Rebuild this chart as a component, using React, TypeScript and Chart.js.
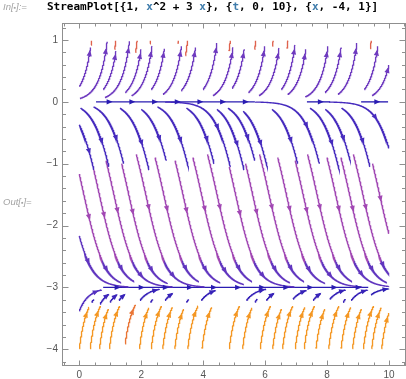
import React, { useEffect, useRef } from "react";
import { Chart, registerables } from "chart.js";

Chart.register(...registerables);

// ---------- axes ----------
const T_MIN = -0.559;
const T_MAX = 10.549;
const X_MIN = -4.27;
const X_MAX = 1.275;
const T_TICKS = [0, 2, 4, 6, 8, 10];
const X_TICKS = [1, 0, -1, -2, -3, -4];
const T_MINOR = 0.5;
const X_MINOR = 0.2;
const DOMAIN_T = [0, 10];

// ---------- streamlines of {1, x^2 + 3x} ----------
// sloped streamline: [t at reference point, x at reference point (seed), x start, x end]
const TOP_LINES = [
  [0.21, 0.5, 0.25, 0.88], [0.72, 0.5, 0.054, 0.97], [1.05, 0.5, 0.2, 0.82],
  [1.44, 0.5, 0.07, 0.98], [1.85, 0.5, 0.15, 0.85], [2.19, 0.5, 0.1, 0.9],
  [2.6, 0.5, 0.2, 0.86], [3.14, 0.5, 0.12, 0.9], [3.6, 0.5, 0.18, 0.88],
  [4.27, 0.5, 0.2, 0.95], [4.81, 0.5, 0.1, 0.88], [5.18, 0.5, 0.22, 0.85],
  [5.83, 0.5, 0.15, 0.9], [6.3, 0.5, 0.1, 0.87], [6.8, 0.5, 0.2, 0.92],
  [7.17, 0.5, 0.12, 0.85], [7.87, 0.5, 0.08, 0.9], [8.3, 0.5, 0.15, 0.88],
  [8.79, 0.5, 0.12, 0.95], [9.48, 0.5, 0.2, 0.9], [9.95, 0.5, 0.1, 0.85],
];
const TIP_LINES = [
  [0.36, 0.85, 0.92, 0.99], [1.14, 0.85, 0.85, 0.99], [1.83, 0.85, 0.8, 0.99],
  [2.26, 0.85, 0.94, 0.99], [3.16, 0.85, 0.94, 0.99], [3.46, 0.85, 0.75, 0.99],
  [4.84, 0.85, 0.82, 0.99], [5.66, 0.85, 0.85, 0.99], [6.22, 0.85, 0.9, 0.99],
  [6.7, 0.85, 0.86, 0.99], [9.39, 0.85, 0.86, 0.99],
];
const UPPER_LINES = [
  [0.03, -0.4, -0.3, -1.1], [0.54, -0.4, -0.1, -1.05], [1.04, -0.4, -0.08, -1.0],
  [1.81, -0.4, -0.1, -1.1], [2.44, -0.4, -0.12, -0.95], [3.1, -0.4, -0.08, -1.05],
  [3.96, -0.4, -0.1, -1.0], [4.46, -0.4, -0.003, -1.05], [4.88, -0.4, -0.12, -1.1],
  [5.3, -0.4, -0.1, -0.95], [5.65, -0.4, -0.15, -1.05], [6.66, -0.4, -0.12, -1.0],
  [7.36, -0.4, -0.003, -1.0], [7.95, -0.4, -0.1, -1.1], [8.38, -0.4, -0.12, -0.95],
  [8.97, -0.4, -0.1, -1.05], [9.74, -0.4, -0.003, -0.9],
];
const MID_LINES = [
  [0.15, -1.5, -0.9, -2.55], [0.65, -1.5, -1.1, -2.55], [1.12, -1.5, -0.95, -2.55],
  [1.6, -1.5, -1.0, -2.55], [2.15, -1.5, -0.85, -2.55], [2.73, -1.5, -0.9, -2.55],
  [3.35, -1.5, -0.95, -2.55], [3.95, -1.5, -0.9, -2.55], [4.45, -1.5, -0.85, -2.55],
  [5.05, -1.5, -1.05, -2.55], [5.6, -1.5, -1.0, -2.55], [6.13, -1.5, -0.85, -2.55],
  [6.69, -1.5, -0.9, -2.55], [7.23, -1.5, -0.95, -2.55], [7.68, -1.5, -0.85, -2.55],
  [8.28, -1.5, -0.9, -2.55], [8.73, -1.5, -0.9, -2.55], [9.16, -1.5, -0.85, -2.55],
  [9.7, -1.5, -1.0, -2.55],
];
const LOW_LINES = [
  [0.11, -2.35, -2.1, -2.99], [0.57, -2.35, -2.55, -2.92], [1.07, -2.35, -2.55, -2.9],
  [1.54, -2.35, -2.55, -2.99], [2.02, -2.35, -2.55, -2.93], [2.57, -2.35, -2.55, -2.99],
  [3.15, -2.35, -2.55, -2.9], [3.77, -2.35, -2.55, -2.92], [4.37, -2.35, -2.55, -2.95],
  [4.87, -2.35, -2.55, -2.9], [5.47, -2.35, -2.55, -2.99], [6.02, -2.35, -2.55, -2.92],
  [6.55, -2.35, -2.55, -2.9], [7.11, -2.35, -2.55, -2.93], [7.65, -2.35, -2.55, -2.99],
  [8.1, -2.35, -2.55, -2.9], [8.7, -2.35, -2.55, -2.99], [9.15, -2.35, -2.55, -2.92],
  [9.58, -2.35, -2.55, -2.9],
];
// [t start, x start, x end]
const ORANGE_LINES = [
  [0.0, -3.99, -3.32], [0.35, -3.99, -3.3], [0.65, -3.99, -3.35], [0.97, -3.99, -3.3],
  [1.48, -3.91, -3.28], [1.94, -3.99, -3.33], [2.32, -3.99, -3.3], [2.69, -3.99, -3.32],
  [3.08, -3.99, -3.35], [3.5, -3.99, -3.3], [3.96, -3.99, -3.32], [4.84, -3.99, -3.3],
  [5.27, -3.99, -3.33], [5.84, -3.99, -3.3], [6.24, -3.99, -3.35], [6.56, -3.99, -3.3],
  [6.97, -3.99, -3.32], [7.26, -3.99, -3.3], [7.64, -3.99, -3.35], [8.05, -3.99, -3.3],
  [8.45, -3.99, -3.32], [8.82, -3.99, -3.35], [9.17, -3.99, -3.3], [9.44, -3.99, -3.33],
  [9.76, -3.99, -3.38],
];
const SHORT_LINES = [
  [0.0, -3.38, -3.04], [0.4, -3.24, -3.19], [0.67, -3.27, -3.11], [0.99, -3.24, -3.12],
  [1.28, -3.21, -3.12], [1.96, -3.21, -3.03], [2.3, -3.24, -3.19], [2.77, -3.21, -3.1],
  [3.46, -3.24, -3.19], [3.94, -3.21, -3.05], [5.4, -3.21, -3.03], [5.67, -3.24, -3.19],
  [6.04, -3.21, -3.1], [6.9, -3.19, -3.05], [7.55, -3.21, -3.1], [8.09, -3.19, -3.04],
  [8.52, -3.24, -3.19], [8.78, -3.21, -3.04], [9.42, -3.12, -3.02],
];
// streamlines lying on the equilibria x = 0 and x = -3: [t start, t end]
const ZERO_FLAT = [[0.54, 5.67], [7.35, 8.1], [9.1, 9.97]];
const MINUS3_FLAT = [[0.77, 9.33]];

// ---------- field helpers ----------
const field = (x: number) => x * x + 3 * x;
const speedAt = (x: number) => Math.sqrt(1 + field(x) * field(x));
const rOf = (x: number) => x / (x + 3);
const xOnTraj = (tRef: number, xRef: number, t: number) => {
  const u = rOf(xRef) * Math.exp(3 * (t - tRef));
  return (3 * u) / (1 - u);
};
const tOnTraj = (tRef: number, xRef: number, x: number) =>
  tRef + Math.log(rOf(x) / rOf(xRef)) / 3;

const SPEED_STOPS: [number, number[]][] = [
  [1.0, [42, 28, 178]],
  [1.5, [74, 45, 192]],
  [2.0, [108, 58, 191]],
  [2.5, [165, 72, 178]],
  [3.0, [194, 85, 150]],
  [3.5, [228, 100, 63]],
  [4.2, [247, 162, 29]],
];
function colorForSpeed(s: number) {
  if (s <= SPEED_STOPS[0][0]) return `rgb(${SPEED_STOPS[0][1].join(",")})`;
  for (let i = 1; i < SPEED_STOPS.length; i++) {
    const [s1, c1] = SPEED_STOPS[i];
    const [s0, c0] = SPEED_STOPS[i - 1];
    if (s <= s1) {
      const f = (s - s0) / (s1 - s0);
      const c = c0.map((v, k) => Math.round(v + (c1[k] - v) * f));
      return `rgb(${c.join(",")})`;
    }
  }
  return `rgb(${SPEED_STOPS[SPEED_STOPS.length - 1][1].join(",")})`;
}

type Seg = { pts: { x: number; y: number }[]; color: string; arrows: number[] };

function sloped(line: number[], arrows: number[]): Seg | null {
  const [tRef, xRef, xs, xe] = line;
  let ta = tOnTraj(tRef, xRef, xs);
  let tb = tOnTraj(tRef, xRef, xe);
  if (ta > tb) [ta, tb] = [tb, ta];
  ta = Math.max(ta, DOMAIN_T[0]);
  tb = Math.min(tb, DOMAIN_T[1]);
  if (tb - ta < 1e-4) return null;
  const n = Math.max(2, Math.ceil((tb - ta) / 0.004));
  const pts = [];
  for (let i = 0; i <= n; i++) {
    const t = ta + ((tb - ta) * i) / n;
    pts.push({ x: t, y: xOnTraj(tRef, xRef, t) });
  }
  return { pts, color: colorForSpeed(speedAt(xRef)), arrows };
}
function flat(xEq: number, seg: number[]): Seg {
  const [ta, tb] = seg;
  const n = Math.max(1, Math.round((tb - ta) / 0.75));
  const arrows = Array.from({ length: n }, (_, i) => (i + 0.6) / n);
  return {
    pts: [{ x: ta, y: xEq }, { x: tb, y: xEq }],
    color: colorForSpeed(speedAt(xEq)),
    arrows,
  };
}

function buildSegments(): Seg[] {
  const out: (Seg | null)[] = [];
  ORANGE_LINES.forEach(([t, x0, x1]) => out.push(sloped([t, x0, x0, x1], [0.82])));
  SHORT_LINES.forEach(([t, x0, x1]) => out.push(sloped([t, x0, x0, x1], [0.82])));
  TIP_LINES.forEach((l) => out.push(sloped(l, [])));
  TOP_LINES.forEach((l) => out.push(sloped(l, [0.86])));
  UPPER_LINES.forEach((l) => out.push(sloped(l, [0.6])));
  MID_LINES.forEach((l) => out.push(sloped(l, [0.5])));
  LOW_LINES.forEach((l) => out.push(sloped(l, [0.35])));
  ZERO_FLAT.forEach((s) => out.push(flat(0, s)));
  MINUS3_FLAT.forEach((s) => out.push(flat(-3, s)));
  return out.filter((s): s is Seg => !!s);
}

const fmt = (v: number) => (v < 0 ? "\u2212" + Math.abs(v) : String(v));

const arrowPlugin = {
  id: "arrows",
  afterDatasetsDraw(chart: any) {
    const { ctx, chartArea: a } = chart;
    const xs = chart.scales.x;
    const ys = chart.scales.y;
    ctx.save();
    ctx.beginPath();
    ctx.rect(a.left, a.top, a.right - a.left, a.bottom - a.top);
    ctx.clip();
    chart.data.datasets.forEach((ds: any) => {
      const arrows: number[] = ds.arrows || [];
      if (!arrows.length) return;
      const px = ds.data.map((p: any) => [xs.getPixelForValue(p.x), ys.getPixelForValue(p.y)]);
      const cum = [0];
      for (let i = 1; i < px.length; i++) {
        cum.push(cum[i - 1] + Math.hypot(px[i][0] - px[i - 1][0], px[i][1] - px[i - 1][1]));
      }
      const L = cum[cum.length - 1];
      if (L < 6) return;
      ctx.fillStyle = ds.borderColor;
      arrows.forEach((f) => {
        const target = f * L;
        let i = 1;
        while (i < cum.length - 1 && cum[i] < target) i++;
        const segL = cum[i] - cum[i - 1] || 1;
        const k = (target - cum[i - 1]) / segL;
        const x = px[i - 1][0] + (px[i][0] - px[i - 1][0]) * k;
        const y = px[i - 1][1] + (px[i][1] - px[i - 1][1]) * k;
        let dx = px[i][0] - px[i - 1][0];
        let dy = px[i][1] - px[i - 1][1];
        const d = Math.hypot(dx, dy) || 1;
        dx /= d;
        dy /= d;
        const len = 6;
        const hw = 2.6;
        const tipX = x + dx * len * 0.5;
        const tipY = y + dy * len * 0.5;
        const bx = x - dx * len * 0.5;
        const by = y - dy * len * 0.5;
        ctx.beginPath();
        ctx.moveTo(tipX, tipY);
        ctx.lineTo(bx - dy * hw, by + dx * hw);
        ctx.lineTo(bx + dy * hw, by - dx * hw);
        ctx.closePath();
        ctx.fill();
      });
    });
    ctx.restore();
  },
};

const framePlugin = {
  id: "frame",
  afterDraw(chart: any) {
    const { ctx, chartArea: a } = chart;
    const xs = chart.scales.x;
    const ys = chart.scales.y;
    const L = Math.round(a.left) + 0.5;
    const R = Math.round(a.right) - 0.5;
    const T = Math.round(a.top) + 0.5;
    const B = Math.round(a.bottom) - 0.5;
    ctx.save();
    ctx.strokeStyle = "#8f8f8f";
    ctx.lineWidth = 1;
    ctx.strokeRect(L, T, R - L, B - T);
    ctx.beginPath();
    for (let k = Math.ceil(T_MIN / T_MINOR); k * T_MINOR <= T_MAX; k++) {
      const v = k * T_MINOR;
      const major = T_TICKS.some((m) => Math.abs(m - v) < 1e-6);
      const len = major ? 5 : 3;
      const p = Math.round(xs.getPixelForValue(v)) + 0.5;
      ctx.moveTo(p, B);
      ctx.lineTo(p, B - len);
      ctx.moveTo(p, T);
      ctx.lineTo(p, T + len);
    }
    for (let k = Math.ceil(X_MIN / X_MINOR - 1e-9); k * X_MINOR <= X_MAX + 1e-9; k++) {
      const v = k * X_MINOR;
      const major = X_TICKS.some((m) => Math.abs(m - v) < 1e-6);
      const len = major ? 6 : 3.5;
      const p = Math.round(ys.getPixelForValue(v)) + 0.5;
      ctx.moveTo(L, p);
      ctx.lineTo(L + len, p);
      ctx.moveTo(R, p);
      ctx.lineTo(R - len, p);
    }
    ctx.stroke();
    ctx.restore();
  },
};

export default function App() {
  const ref = useRef<HTMLCanvasElement>(null);
  useEffect(() => {
    const segs = buildSegments();
    const tickFont = { family: "'Liberation Sans', Arial, sans-serif", size: 10 };
    const chart = new Chart(ref.current as HTMLCanvasElement, {
      type: "scatter",
      data: {
        datasets: segs.map((s) => ({
          data: s.pts,
          showLine: true,
          borderColor: s.color,
          backgroundColor: s.color,
          borderWidth: 1.35,
          pointRadius: 0,
          pointHoverRadius: 0,
          fill: false,
          tension: 0,
          arrows: s.arrows,
        })) as any,
      },
      options: {
        animation: false,
        responsive: false,
        devicePixelRatio: 1,
        events: [],
        layout: { padding: { top: 23, right: 0, left: 0, bottom: 0 } },
        plugins: { legend: { display: false }, tooltip: { enabled: false } },
        scales: {
          x: {
            type: "linear",
            min: T_MIN,
            max: T_MAX,
            grid: { display: false, drawTicks: false },
            border: { display: false },
            afterBuildTicks: (s: any) => {
              s.ticks = T_TICKS.map((v) => ({ value: v }));
            },
            afterFit: (s: any) => {
              s.height = 13;
            },
            ticks: {
              padding: 3,
              color: "#555",
              font: tickFont,
              maxRotation: 0,
              autoSkip: false,
              callback: (v: any) => fmt(Number(v)),
            },
          },
          y: {
            type: "linear",
            min: X_MIN,
            max: X_MAX,
            grid: { display: false, drawTicks: false },
            border: { display: false },
            afterBuildTicks: (s: any) => {
              s.ticks = X_TICKS.map((v) => ({ value: v }));
            },
            afterFit: (s: any) => {
              s.width = 62;
            },
            ticks: {
              padding: 4,
              color: "#555",
              font: tickFont,
              autoSkip: false,
              callback: (v: any) => fmt(Number(v)),
            },
          },
        },
      } as any,
      plugins: [arrowPlugin, framePlugin],
    });
    return () => chart.destroy();
  }, []);

  const label: React.CSSProperties = {
    position: "absolute",
    fontFamily: "'Liberation Sans', Arial, sans-serif",
    fontStyle: "italic",
    fontSize: 9.5,
    color: "#a3a3a3",
    lineHeight: "11px",
    whiteSpace: "nowrap",
  };
  const v: React.CSSProperties = { color: "#3f7cab" };
  return (
    <div
      style={{
        position: "absolute",
        left: 0,
        top: 0,
        width: 406,
        height: 379,
        background: "#fff",
        overflow: "hidden",
      }}
    >
      <canvas
        ref={ref}
        width={406}
        height={379}
        style={{ position: "absolute", left: 0, top: 0, width: 406, height: 379 }}
      />
      <div style={{ ...label, left: 3, top: 1 }}>
        In[<span style={{ fontSize: 7 }}>&#9642;</span>]:=
      </div>
      <div
        style={{
          position: "absolute",
          left: 47,
          top: 0,
          fontFamily: "'DejaVu Sans Mono', monospace",
          fontWeight: "bold",
          fontSize: 11,
          lineHeight: "13px",
          color: "#000",
          whiteSpace: "pre",
        }}
      >
        StreamPlot[{"{"}1, <span style={v}>x</span>^2 + 3 <span style={v}>x</span>{"}"}, {"{"}
        <span style={v}>t</span>, 0, 10{"}"}, {"{"}
        <span style={v}>x</span>, -4, 1{"}"}]
      </div>
      <div style={{ ...label, left: 3, top: 196 }}>
        Out[<span style={{ fontSize: 7 }}>&#9642;</span>]=
      </div>
    </div>
  );
}
